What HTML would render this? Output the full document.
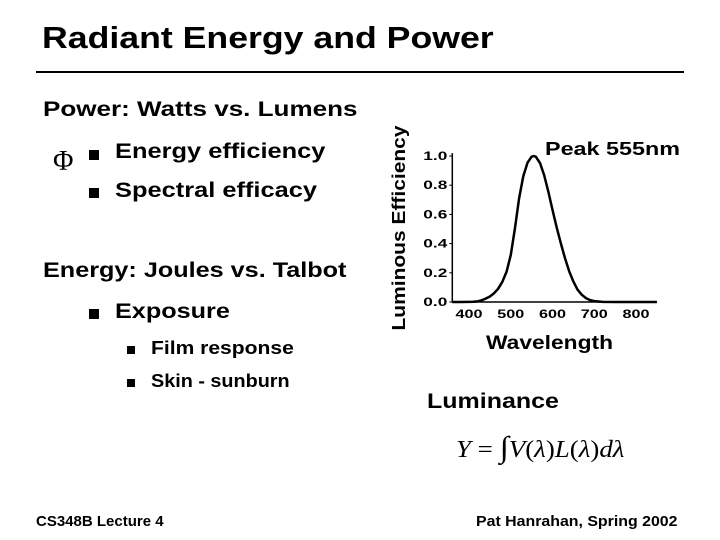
<!DOCTYPE html>
<html><head><meta charset="utf-8"><style>
body{margin:0;width:720px;height:540px;background:#fff;position:relative;overflow:hidden;font-family:"Liberation Sans",sans-serif;color:#000}
.t{position:absolute;white-space:nowrap;font-weight:bold;transform-origin:0 0}
.b{position:absolute;width:10px;height:10px;background:#000}
</style></head><body>
<div class="t" style="left:42px;top:20px;font-size:31px;transform:scaleX(1.15)">Radiant Energy and Power</div>
<div style="position:absolute;left:36px;top:71px;width:648px;height:2px;background:#000"></div>
<div class="t" style="left:43px;top:98px;font-size:21px;transform:scaleX(1.24)">Power: Watts vs. Lumens</div>
<div class="t" style="left:53px;top:146px;font-size:28px;font-weight:normal;font-family:'Liberation Serif',serif">Φ</div>
<div class="b" style="left:89px;top:150px"></div>
<div class="t" style="left:115px;top:140px;font-size:21px;transform:scaleX(1.21)">Energy efficiency</div>
<div class="b" style="left:89px;top:188px"></div>
<div class="t" style="left:115px;top:179px;font-size:21px;transform:scaleX(1.21)">Spectral efficacy</div>
<div class="t" style="left:43px;top:259px;font-size:21px;transform:scaleX(1.2)">Energy: Joules vs. Talbot</div>
<div class="b" style="left:89px;top:309px"></div>
<div class="t" style="left:115px;top:300px;font-size:21px;transform:scaleX(1.2)">Exposure</div>
<div class="b" style="left:127px;top:346px;width:8px;height:8px"></div>
<div class="t" style="left:151px;top:338px;font-size:18px;transform:scaleX(1.17)">Film response</div>
<div class="b" style="left:127px;top:379px;width:8px;height:8px"></div>
<div class="t" style="left:151px;top:371px;font-size:18px;transform:scaleX(1.1)">Skin - sunburn</div>
<div class="t" style="left:427px;top:390px;font-size:21px;transform:scaleX(1.19)">Luminance</div>
<div class="t" style="left:456px;top:431px;font-size:24px;font-weight:normal;font-style:italic;font-family:'Liberation Serif',serif;transform:scaleX(1.12)">Y <span style="font-style:normal">= <span style="font-size:30px">∫</span></span>V<span style="font-style:normal">(</span>λ<span style="font-style:normal">)</span>L<span style="font-style:normal">(</span>λ<span style="font-style:normal">)</span>dλ</div>
<div class="t" style="left:36px;top:513px;font-size:15px">CS348B Lecture 4</div>
<div class="t" style="left:476px;top:513px;font-size:15px;transform:scaleX(1.06)">Pat Hanrahan, Spring 2002</div>
<svg id="chart" style="position:absolute;left:0;top:0" width="720" height="540"></svg>
<script>
const wavelengths=[360,380,400,410,420,430,440,450,460,470,480,490,500,510,520,530,540,550,555,560,570,580,590,600,610,620,630,640,650,660,670,680,690,700,720,750,800,850];
const efficiency=[0,0,0.0004,0.0012,0.004,0.0116,0.023,0.038,0.06,0.091,0.139,0.208,0.323,0.503,0.71,0.862,0.954,0.995,1,0.995,0.952,0.87,0.757,0.631,0.51,0.4,0.3,0.21,0.14,0.085,0.05,0.027,0.013,0.006,0.001,0,0,0];
const yTicks=[0,0.2,0.4,0.6,0.8,1.0];
const xTicks=[400,500,600,700,800];
const svg=document.getElementById('chart');
const NS='http://www.w3.org/2000/svg';
const X=v=>469+(v-400)*(167/400);
const Y=v=>302-v*146;
function mk(t,a){const e=document.createElementNS(NS,t);for(const k in a)e.setAttribute(k,a[k]);svg.appendChild(e);return e;}
const ax=mk('path',{d:`M${X(360)} ${Y(1.02)} V${Y(0)} H${X(850)}`,stroke:'#000','stroke-width':1.5,fill:'none'});


yTicks.forEach(v=>{
 const tl=mk('line',{x1:X(360)-3,x2:X(360),y1:Y(v),y2:Y(v),stroke:'#000'});
 
 
 const t=mk('text',{x:X(360)-5,y:Y(v)+4,'text-anchor':'end','font-size':12,'font-weight':'bold','font-family':'Liberation Sans, sans-serif',textLength:24,lengthAdjust:'spacingAndGlyphs'});
 t.textContent=v.toFixed(1);
 
 
});
xTicks.forEach(v=>{
 const t=mk('text',{x:X(v),y:318,'text-anchor':'middle','font-size':12,'font-weight':'bold','font-family':'Liberation Sans, sans-serif',textLength:27,lengthAdjust:'spacingAndGlyphs'});
 t.textContent=v;
 
 
});
const c=mk('path',{d:wavelengths.map((w,i)=>(i?'L':'M')+X(w).toFixed(1)+' '+Y(efficiency[i]).toFixed(1)).join(' '),stroke:'#000','stroke-width':2.5,fill:'none','stroke-linejoin':'round'});


const xt=mk('text',{x:486,y:349,'font-size':19,'font-weight':'bold','font-family':'Liberation Sans, sans-serif',textLength:127,lengthAdjust:'spacingAndGlyphs'});
xt.textContent='Wavelength';


const yt=mk('text',{x:0,y:0,'text-anchor':'middle','font-size':18,'font-weight':'bold','font-family':'Liberation Sans, sans-serif',transform:'translate(405,228) rotate(-90)',textLength:205,lengthAdjust:'spacingAndGlyphs'});
yt.textContent='Luminous Efficiency';


const pk=mk('text',{x:545,y:155,'font-size':18,'font-weight':'bold','font-family':'Liberation Sans, sans-serif',textLength:135,lengthAdjust:'spacingAndGlyphs'});
pk.textContent='Peak 555nm';


</script>
</body></html>
